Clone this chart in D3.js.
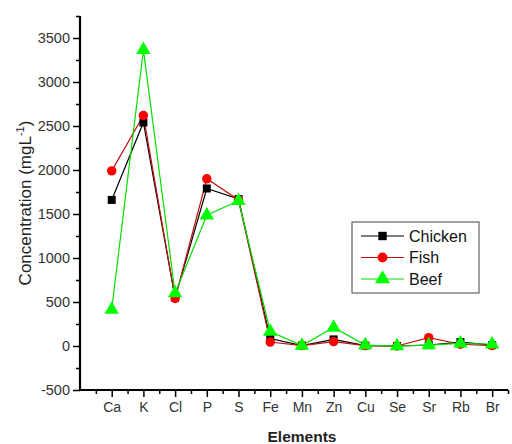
<!DOCTYPE html>
<html>
<head>
<meta charset="utf-8">
<script src="https://cdn.jsdelivr.net/npm/d3@7"></script>
<style>
    body { margin: 0; background: #fff; }
    text { font-family: "Liberation Sans", Arial, sans-serif; }
</style>
</head>
<body>
<script>
//chart data
var elements = ["Ca", "K", "Cl", "P", "S", "Fe", "Mn", "Zn", "Cu", "Se", "Sr", "Rb", "Br"];
var chicken = [1660, 2540, 550, 1790, 1670, 85, 5, 75, 5, 0, 10, 45, 10];
var fish = [1990, 2620, 540, 1900, 1660, 45, 5, 50, 5, 0, 95, 20, 5];
var beef = [415, 3365, 600, 1485, 1650, 165, 5, 210, 10, 0, 10, 30, 20];
var yTicks = [-500, 0, 500, 1000, 1500, 2000, 2500, 3000, 3500];

var seriesNames = ["Chicken", "Fish", "Beef"];
var seriesData = [chicken, fish, beef];

(function(){
    var width = 512, height = 444;
    var left = 80, right = 508, top = 16, bottom = 390;

    var svg = d3.select("body").append("svg")
        .attr("width", width)
        .attr("height", height);

    //x positions: categories at 1..13, axis runs 0..13.5
    var x = d3.scaleLinear().domain([0, 13.5]).range([left, right]);
    var y = d3.scaleLinear().domain([-500, 3750]).range([bottom, top]);

    var lineColors = ["#000000", "#c01010", "#00e000"];
    var markColors = ["#000000", "#ff0000", "#00ff00"];
    var markTypes = [d3.symbolSquare, d3.symbolCircle, d3.symbolTriangle];
    var markSizes = [64, 70, 90];

    //y axis with minor ticks
    var yMinor = d3.range(-500, 3751, 250).filter(function(v){ return v % 500 != 0; });
    svg.append("g")
        .attr("transform", "translate(" + left + ",0)")
        .call(d3.axisLeft(y).tickValues(yMinor).tickSize(4).tickFormat(""))
        .call(function(g){ g.select(".domain").remove(); g.selectAll("line").attr("stroke-width", 1.5); });
    var yAxis = svg.append("g")
        .attr("transform", "translate(" + left + ",0)")
        .call(d3.axisLeft(y).tickValues(yTicks).tickSize(7).tickPadding(3).tickSizeOuter(0)
            .tickFormat(function(d){ return String(d); }));
    yAxis.select(".domain").attr("stroke-width", 2.2).attr("d", "M0," + top + "V" + bottom);
    yAxis.selectAll("line").attr("stroke-width", 1.5);
    yAxis.selectAll("text").attr("font-size", 14.5).attr("fill", "#333")
        .attr("font-family", "Liberation Sans, Arial, sans-serif");

    //x axis with minor ticks
    var xMinor = d3.range(0.5, 13.6, 1);
    svg.append("g")
        .attr("transform", "translate(0," + bottom + ")")
        .call(d3.axisBottom(x).tickValues(xMinor).tickSize(4).tickFormat(""))
        .call(function(g){ g.select(".domain").remove(); g.selectAll("line").attr("stroke-width", 1.5); });
    var xAxis = svg.append("g")
        .attr("transform", "translate(0," + bottom + ")")
        .call(d3.axisBottom(x).tickValues(d3.range(1, 14))
            .tickFormat(function(d){ return elements[d - 1]; })
            .tickSize(7).tickPadding(5).tickSizeOuter(0));
    xAxis.select(".domain").attr("stroke-width", 2.2).attr("d", "M" + left + ",0H" + right);
    xAxis.selectAll("line").attr("stroke-width", 1.5);
    xAxis.selectAll("text").attr("font-size", 14).attr("fill", "#333")
        .attr("font-family", "Liberation Sans, Arial, sans-serif");

    //axis titles
    svg.append("text")
        .attr("transform", "translate(31," + ((top + bottom) / 2) + ") rotate(-90)")
        .attr("text-anchor", "middle")
        .attr("font-size", 17)
        .attr("fill", "#222")
        .html("Concentration (mgL<tspan dy='-7' font-size='11'>-1</tspan><tspan dy='7'>)</tspan>");

    svg.append("text")
        .attr("x", 302)
        .attr("y", 442)
        .attr("text-anchor", "middle")
        .attr("font-size", 15.5)
        .attr("font-weight", "bold")
        .attr("fill", "#222")
        .text("Elements");

    //lines and markers
    var line = d3.line()
        .x(function(d, i){ return x(i + 1); })
        .y(function(d){ return y(d); });

    seriesData.forEach(function(data, s){
        svg.append("path")
            .datum(data)
            .attr("fill", "none")
            .attr("stroke", lineColors[s])
            .attr("stroke-width", 1.2)
            .attr("d", line);
    });
    seriesData.forEach(function(data, s){
        svg.selectAll(".mark" + s)
            .data(data)
            .enter()
            .append("path")
            .attr("class", "mark" + s)
            .attr("d", d3.symbol().type(markTypes[s]).size(markSizes[s]))
            .attr("transform", function(d, i){ return "translate(" + x(i + 1) + "," + y(d) + ")"; })
            .attr("fill", markColors[s]);
    });

    //legend
    var legend = svg.append("g").attr("transform", "translate(352,222)");
    legend.append("rect")
        .attr("width", 127)
        .attr("height", 71)
        .attr("fill", "#fff")
        .attr("stroke", "#444")
        .attr("stroke-width", 1);
    seriesNames.forEach(function(name, s){
        var ly = 14 + s * 21.5;
        legend.append("line")
            .attr("x1", 9).attr("x2", 52)
            .attr("y1", ly).attr("y2", ly)
            .attr("stroke", lineColors[s])
            .attr("stroke-width", 1.2);
        legend.append("path")
            .attr("d", d3.symbol().type(markTypes[s]).size(markSizes[s] * 1.1))
            .attr("transform", "translate(30.5," + ly + ")")
            .attr("fill", markColors[s]);
        legend.append("text")
            .attr("x", 57)
            .attr("y", ly + 5.5)
            .attr("font-size", 16)
            .attr("fill", "#111")
            .text(name);
    });
})();
</script>
</body>
</html>
